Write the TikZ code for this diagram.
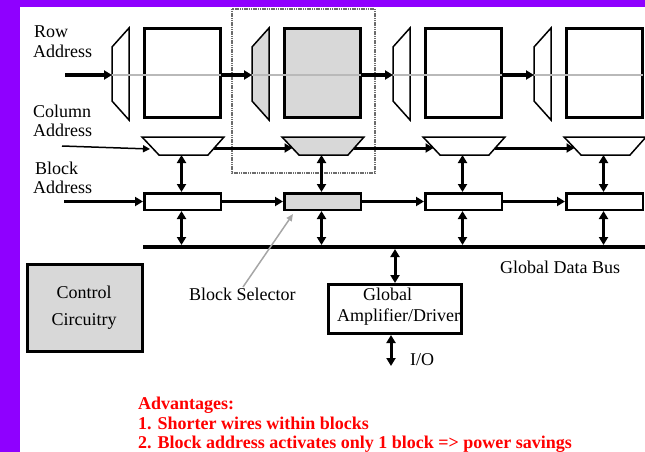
\documentclass[tikz,border=0pt]{standalone}
\usepackage{fontspec}
\setmainfont{Liberation Serif}
\usetikzlibrary{arrows.meta}
\definecolor{slideviolet}{RGB}{143,0,255}
\definecolor{shade}{RGB}{216,216,216}
\begin{document}
\begin{tikzpicture}[x=1pt,y=-1pt,
  lbl/.style={font=\fontsize{18}{20}\selectfont, inner sep=0pt, anchor=base west},
  adv/.style={font=\fontsize{18}{20}\selectfont\bfseries, text=red, inner sep=0pt, anchor=base west},
  memblk/.style={draw, line width=3pt, inner sep=0pt, minimum width=76pt, minimum height=89pt},
  selblk/.style={draw, line width=2.5pt, inner sep=0pt, minimum width=76.5pt, minimum height=16.5pt},
  dec/.style={draw, line width=1.5pt, line join=miter},
  rowline/.style={draw=gray!55, line width=2.5pt},
  fwd/.style={line width=3pt, -{Triangle[length=8pt,width=9pt]}},
  both/.style={line width=3pt, {Triangle[length=8pt,width=9pt]}-{Triangle[length=8pt,width=9pt]}},
  thinfwd/.style={line width=1.5pt, -{Triangle[length=7pt,width=7pt]}},
]
\useasboundingbox (0,0) rectangle (645,452);
% slide frame
\fill[slideviolet] (0,0) rectangle (645,7);
\fill[slideviolet] (0,0) rectangle (19.5,452);

% outline around the selected block
\draw[gray!85!black, line width=2pt, dash pattern=on 1.2pt off 0.6pt] (232,9) rectangle (375,173);

% bus reference points
\coordinate (busL) at (143,247);
\coordinate (busR) at (645,247);
\coordinate (bustop) at (0,245);
\coordinate (busbot) at (0,249);

% four memory blocks with row decoder, column decoder and block selector
\foreach \i/\bx/\f in {1/143/white, 2/283/shade, 3/424/white, 4/565/white} {
  % row decoder
  \draw[dec, fill=\f] (\bx-31,47) -- (\bx-14,28) -- (\bx-14,120) -- (\bx-31,101) -- cycle;
  \coordinate (rin\i) at (\bx-31,75);
  % memory array
  \node[memblk, fill=\f] (mem\i) at (\bx+39.5,73) {};
  \coordinate (rout\i) at (\bx+78,75);
  % word line through the array
  \draw[rowline] (rin\i) -- (rout\i);
  % column decoder
  \draw[dec, fill=\f] (\bx-1,137) -- (\bx+81,137) -- (\bx+65,155) -- (\bx+16,155) -- cycle;
  \coordinate (cin\i) at (\bx+9.5,148);
  \coordinate (cout\i) at (\bx+71,148);
  \coordinate (cbot\i) at (\bx+38.5,155);
  % block selector
  \node[selblk, fill=\f] (sel\i) at (\bx+39.5,201.5) {};
  \draw[both] (cbot\i) -- (cbot\i |- sel\i.north);
  \draw[both] (cbot\i |- sel\i.south) -- (cbot\i |- bustop);
}

% chaining between neighbouring blocks
\foreach \i/\j in {1/2, 2/3, 3/4} {
  \draw[fwd] (rout\i) -- (rin\j);
  \draw[fwd] (cout\i) -- (cin\j);
  \draw[fwd] (sel\i.east) -- (sel\j.west);
}

% address inputs
\coordinate (rowsrc) at (65,75);
\coordinate (colsrc) at (62,146);
\coordinate (colend) at (150,149);
\coordinate (blksrc) at (64,201.5);
\draw[fwd] (rowsrc) -- (rin1);
\draw[thinfwd] (colsrc) -- (colend);
\draw[fwd] (blksrc) -- (sel1.west);

\node[lbl] (rowa1) at (34,38) {Row};
\node[lbl] (rowa2) at (33,58) {Address};
\node[lbl] (cola1) at (33,117) {Column};
\node[lbl] (cola2) at (33,136.5) {Address};
\node[lbl] (blka1) at (35,174) {Block};
\node[lbl] (blka2) at (33,193) {Address};

% global data bus
\draw[line width=4pt] (busL) -- (busR);
\node[lbl] (buslbl) at (500,273) {Global Data Bus};

% control circuitry
\node[draw, line width=3pt, fill=shade, inner sep=0pt, minimum width=115pt, minimum height=87pt] (ctrl) at (85,308) {};
\node[lbl, anchor=base] (ctrl1) at (84,298) {Control};
\node[lbl, anchor=base] (ctrl2) at (84,325) {Circuitry};

% block selector pointer
\node[lbl] (bsel) at (189,300) {Block Selector};
\coordinate (ptrfoot) at (243,287);
\coordinate (ptrtip) at (293,214);
\draw[gray!70, line width=1.5pt, -{Triangle[length=7pt,width=6pt]}] (ptrfoot) -- (ptrtip);

% global amplifier / driver
\node[lbl] (amp1) at (363,300) {Global};
\node[lbl] (amp2) at (337,321) {Amplifier/Driver};
\node[draw, line width=3pt, inner sep=0pt, minimum width=133pt, minimum height=49pt] (amp) at (395,309) {};
\draw[both] (amp.north |- busbot) -- (amp.north);
\coordinate (iotip) at (391,366);
\draw[both] (amp.south -| iotip) -- (iotip);
\node[lbl] (iolbl) at (410,365) {I/O};

% advantages
\node[adv] (adv1) at (138,409) {Advantages:};
\node[adv] (adv2) at (138,429) {1. Shorter wires within blocks};
\node[adv] (adv3) at (138,448) {2. Block address activates only 1 block => power savings};
\end{tikzpicture}
\end{document}
